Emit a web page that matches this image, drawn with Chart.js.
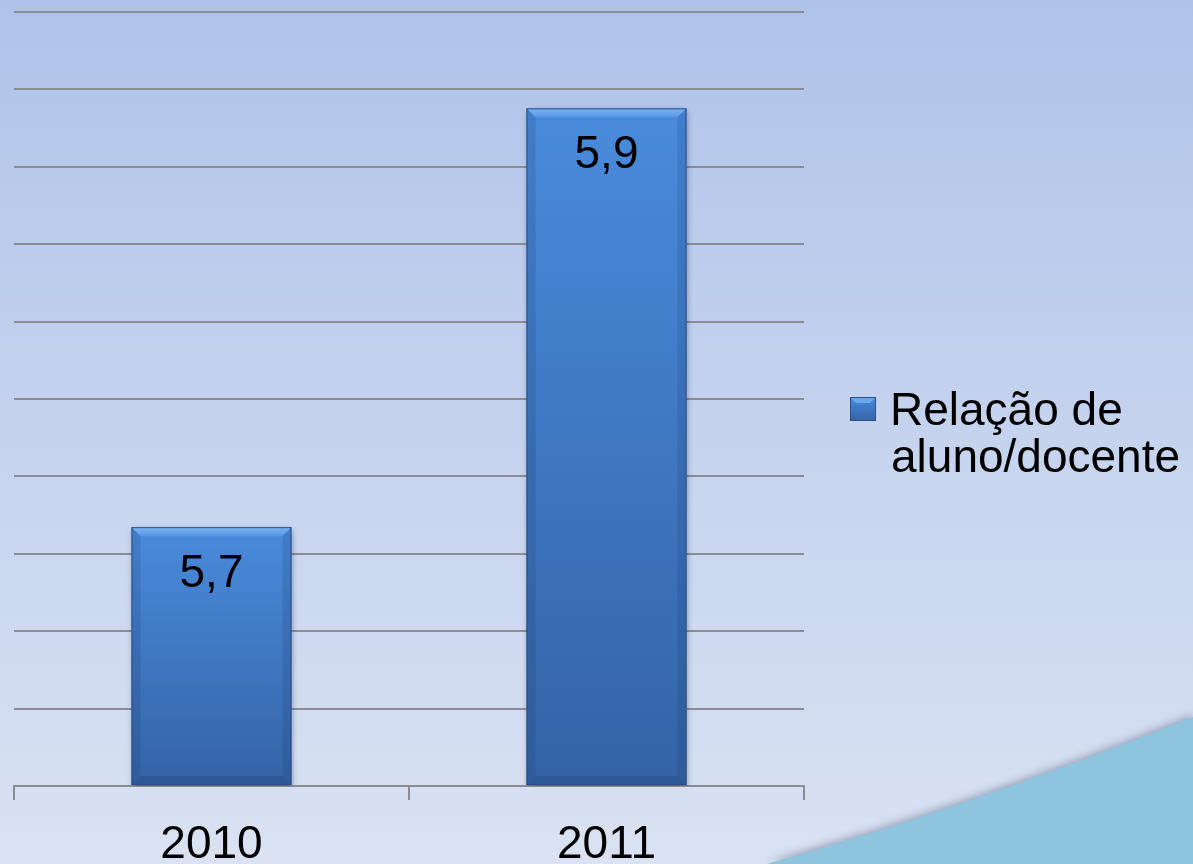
<!DOCTYPE html>
<html lang="pt">
<head>
<meta charset="utf-8">
<title>Relação de aluno/docente</title>
<script src="https://cdn.jsdelivr.net/npm/chart.js@4/dist/chart.umd.min.js"></script>
<style>
  html, body { margin: 0; padding: 0; }
  body { background: linear-gradient(to bottom, #afc3ea 0%, #c5d3ee 50%, #dae2f3 100%); }
  #wrap { position: relative; width: 1193px; height: 864px; }
</style>
</head>
<body>
<div id="wrap"><canvas id="ratio-chart"></canvas></div>
<script>
/* ===== DATA ===== */
const years       = ['2010', '2011'];
const ratios      = [5.7, 5.9];
const seriesLabel = ['Relação de', 'aluno/docente'];

// value axis (no tick labels shown, only the 10 grid bands)
const axisMin   = 5.5764;
const axisMax   = 5.946;
const gridCount = 10;

const FONT = '"Liberation Sans", Arial, sans-serif';
const fmt  = v => v.toFixed(1).replace('.', ',');

function barGradient(ctx, top, bottom) {
  const g = ctx.createLinearGradient(0, top, 0, bottom);
  g.addColorStop(0, '#4a8bdc');
  g.addColorStop(1, '#3463a6');
  return g;
}

/* ===== PLUGINS ===== */
// light swoosh in the lower right corner
const backdrop = {
  id: 'backdrop',
  beforeDraw(chart) {
    const { ctx, width, height } = chart;
    ctx.save();
    ctx.beginPath();
    ctx.moveTo(767, height);
    ctx.quadraticCurveTo(960, 810, width, 717);
    ctx.lineTo(width, height);
    ctx.closePath();
    ctx.shadowColor = 'rgba(70,80,110,0.45)';
    ctx.shadowBlur = 9;
    ctx.shadowOffsetY = -2;
    ctx.fillStyle = '#8ec4de';
    ctx.fill();
    ctx.restore();
  }
};

// soft shadow under the bars, bevel edges and value labels on top
const barDecor = {
  id: 'barDecor',
  beforeDatasetsDraw(chart) {
    const ctx = chart.ctx;
    ctx.save();
    ctx.shadowColor = 'rgba(30,40,70,0.45)';
    ctx.shadowBlur = 6;
    ctx.shadowOffsetX = 1;
    ctx.shadowOffsetY = 3;
  },
  afterDatasetsDraw(chart) {
    const ctx = chart.ctx;
    ctx.restore();
    const meta = chart.getDatasetMeta(0);
    meta.data.forEach((bar, i) => {
      const l = bar.x - bar.width / 2, r = bar.x + bar.width / 2;
      const t = bar.y, b = bar.base, bv = 9;
      ctx.save();
      // top bevel
      ctx.beginPath();
      ctx.moveTo(l, t); ctx.lineTo(r, t); ctx.lineTo(r - bv, t + bv); ctx.lineTo(l + bv, t + bv);
      ctx.closePath();
      const gt = ctx.createLinearGradient(0, t, 0, t + bv);
      gt.addColorStop(0, '#7ab5f3'); gt.addColorStop(1, '#5797e3');
      ctx.fillStyle = gt; ctx.fill();
      // side bevels
      ctx.fillStyle = 'rgba(20,45,90,0.15)';
      ctx.beginPath();
      ctx.moveTo(l, t); ctx.lineTo(l + bv, t + bv); ctx.lineTo(l + bv, b - bv); ctx.lineTo(l, b);
      ctx.closePath(); ctx.fill();
      ctx.beginPath();
      ctx.moveTo(r, t); ctx.lineTo(r - bv, t + bv); ctx.lineTo(r - bv, b - bv); ctx.lineTo(r, b);
      ctx.closePath(); ctx.fill();
      // bottom bevel
      ctx.fillStyle = 'rgba(20,45,90,0.2)';
      ctx.beginPath();
      ctx.moveTo(l, b); ctx.lineTo(l + bv, b - bv); ctx.lineTo(r - bv, b - bv); ctx.lineTo(r, b);
      ctx.closePath(); ctx.fill();
      ctx.strokeStyle = '#2b4f86';
      ctx.lineWidth = 1;
      ctx.strokeRect(l + 0.5, t + 0.5, bar.width - 1, b - t - 1);
      // value label
      ctx.fillStyle = '#000';
      ctx.font = '46px ' + FONT;
      ctx.textAlign = 'center';
      ctx.textBaseline = 'alphabetic';
      ctx.fillText(fmt(ratios[i]), bar.x, t + 60);
      ctx.restore();
    });
  }
};

// two-line legend to the right of the plot
const sideLegend = {
  id: 'sideLegend',
  afterDraw(chart) {
    const { ctx, chartArea, height } = chart;
    const x = chartArea.right + 46;
    const y = height / 2 - 35;
    ctx.save();
    ctx.fillStyle = barGradient(ctx, y, y + 24);
    ctx.fillRect(x, y, 26, 24);
    ctx.fillStyle = '#6aa8ee';
    ctx.beginPath();
    ctx.moveTo(x, y); ctx.lineTo(x + 26, y); ctx.lineTo(x + 20, y + 6); ctx.lineTo(x + 6, y + 6);
    ctx.closePath(); ctx.fill();
    ctx.strokeStyle = '#2b4f86';
    ctx.strokeRect(x + 0.5, y + 0.5, 25, 23);
    ctx.fillStyle = '#000';
    ctx.font = '46px ' + FONT;
    ctx.textAlign = 'left';
    ctx.textBaseline = 'alphabetic';
    ctx.fillText(seriesLabel[0], x + 40, y + 28);
    ctx.fillText(seriesLabel[1], x + 41, y + 75);
    ctx.restore();
  }
};

/* ===== CHART ===== */
new Chart(document.getElementById('ratio-chart'), {
  type: 'bar',
  data: {
    labels: years,
    datasets: [{
      label: seriesLabel.join(' '),
      data: ratios,
      base: axisMin,
      backgroundColor: c => {
        const ch = c.chart;
        if (!ch.chartArea || c.raw === undefined) return '#3f78c4';
        const y = ch.scales.y;
        return barGradient(ch.ctx, y.getPixelForValue(c.raw), y.getPixelForValue(axisMin));
      },
      borderWidth: 0,
      barPercentage: 0.405,
      categoryPercentage: 1
    }]
  },
  options: {
    responsive: true,
    maintainAspectRatio: false,
    animation: false,
    layout: { padding: { top: 12, left: 14, right: 389, bottom: 0 } },
    plugins: { legend: { display: false }, tooltip: { enabled: false } },
    scales: {
      x: {
        afterFit: scale => { scale.height = 78; },
        grid: { display: true, drawOnChartArea: false, drawTicks: true, tickLength: 14, color: '#8a8d94', lineWidth: 2 },
        border: { display: true, color: '#8a8d94', width: 2 },
        ticks: { color: '#000', font: { size: 46, family: FONT }, padding: 18 }
      },
      y: {
        min: axisMin,
        max: axisMax,
        afterBuildTicks: scale => {
          const step = (axisMax - axisMin) / gridCount;
          scale.ticks = Array.from({ length: gridCount + 1 }, (_, i) => ({ value: axisMin + i * step }));
        },
        grid: { color: '#8a8d94', lineWidth: 2, drawTicks: false },
        border: { display: false },
        ticks: { display: false }
      }
    }
  },
  plugins: [backdrop, barDecor, sideLegend]
});
</script>
</body>
</html>
